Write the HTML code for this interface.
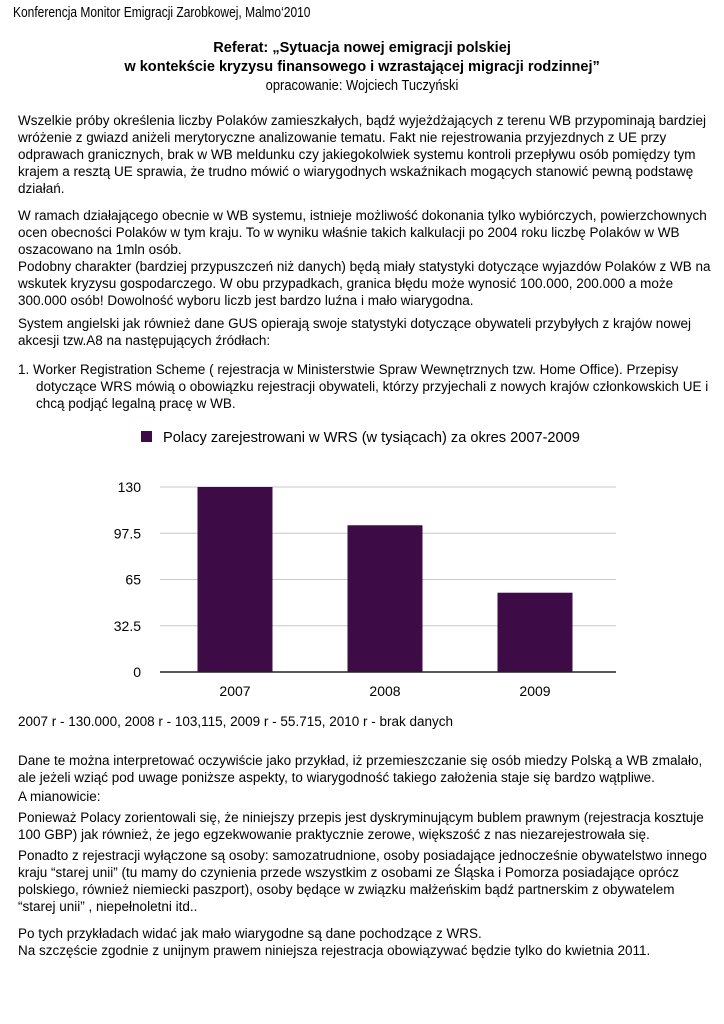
<!DOCTYPE html>
<html><head><meta charset="utf-8">
<style>
body{margin:0;width:724px;height:1024px;background:#fff;position:relative;overflow:hidden;font-family:"Liberation Sans",Arial,sans-serif;color:#000}
.l{position:absolute;left:18px;font-size:13.5px;line-height:17px;white-space:nowrap}
.c{position:absolute;left:0;width:724px;text-align:center;white-space:nowrap}
.n{display:inline-block;transform:scaleX(0.80);transform-origin:left}
</style></head><body>
<div class="l" style="left:13px;top:4px;font-size:15px"><span class="n">Konferencja Monitor Emigracji Zarobkowej, Malmo‘2010</span></div>
<div class="c" style="top:38px;font-size:15px;line-height:19px;font-weight:bold"><span style="display:inline-block;transform:scaleX(0.97)">Referat: „Sytuacja nowej emigracji polskiej<br>w kontekście kryzysu finansowego i wzrastającej migracji rodzinnej”</span></div>
<div class="c" style="top:77px;font-size:15px;left:0"><span style="display:inline-block;transform:scaleX(0.86)">opracowanie: Wojciech Tuczyński</span></div>

<div>
<div class="l" style="top:112px">Wszelkie próby określenia liczby Polaków zamieszkałych, bądź wyjeżdżających z terenu WB przypominają bardziej</div>
<div class="l" style="top:129px">wróżenie z gwiazd aniżeli merytoryczne analizowanie tematu. Fakt nie rejestrowania przyjezdnych z UE przy</div>
<div class="l" style="top:146px">odprawach granicznych, brak w WB meldunku czy jakiegokolwiek systemu kontroli  przepływu osób pomiędzy tym</div>
<div class="l" style="top:163px">krajem a resztą UE sprawia, że trudno mówić o wiarygodnych wskaźnikach mogących stanowić pewną podstawę</div>
<div class="l" style="top:180px">działań.</div>
<div class="l" style="top:207px">W ramach działającego obecnie w WB systemu, istnieje możliwość dokonania tylko wybiórczych, powierzchownych</div>
<div class="l" style="top:224px">ocen obecności Polaków w tym kraju. To w wyniku właśnie takich kalkulacji po 2004 roku liczbę Polaków w WB</div>
<div class="l" style="top:241px">oszacowano na 1mln osób.</div>
<div class="l" style="top:258px">Podobny charakter (bardziej przypuszczeń niż danych) będą miały statystyki dotyczące wyjazdów Polaków z WB na</div>
<div class="l" style="top:275px">wskutek kryzysu gospodarczego. W obu przypadkach, granica błędu może wynosić 100.000, 200.000 a może</div>
<div class="l" style="top:292px">300.000 osób! Dowolność wyboru liczb jest bardzo luźna i mało wiarygodna.</div>
<div class="l" style="top:315px">System angielski jak również dane GUS opierają swoje statystyki dotyczące obywateli przybyłych z krajów nowej</div>
<div class="l" style="top:332px">akcesji tzw.A8 na następujących źródłach:</div>
<div class="l" style="top:361px">1. Worker Registration Scheme ( rejestracja w Ministerstwie Spraw Wewnętrznych tzw. Home Office). Przepisy</div>
<div class="l" style="top:378px;left:36px">dotyczące WRS mówią o obowiązku rejestracji obywateli, którzy przyjechali z nowych krajów członkowskich UE i</div>
<div class="l" style="top:395px;left:36px">chcą podjąć legalną pracę w WB.</div>
</div>

<svg id="chart" style="position:absolute;left:0;top:420px" width="724" height="290">
<g id="legend">
<rect x="141" y="11" width="11" height="11" fill="#3d0c46"/>
<text x="163" y="22" font-size="14.6" font-family="Liberation Sans, sans-serif">Polacy zarejestrowani w WRS (w tysiącach) za okres 2007-2009</text>
</g>
<g id="plot"></g>
</svg>

<div>
<div class="l" style="top:713px;font-size:13.5px">2007 r - 130.000, 2008 r - 103,115, 2009 r - 55.715, 2010 r - brak danych</div>
<div class="l" style="top:752px">Dane te można interpretować oczywiście jako przykład, iż przemieszczanie się osób miedzy Polską a WB zmalało,</div>
<div class="l" style="top:769px">ale jeżeli wziąć pod uwage poniższe aspekty, to wiarygodność takiego założenia staje się bardzo wątpliwe.</div>
<div class="l" style="top:788px">A mianowicie:</div>
<div class="l" style="top:809px">Ponieważ Polacy zorientowali się, że niniejszy przepis jest dyskryminującym bublem prawnym (rejestracja kosztuje</div>
<div class="l" style="top:826px">100 GBP) jak również, że jego egzekwowanie praktycznie zerowe, większość z nas niezarejestrowała się.</div>
<div class="l" style="top:847px">Ponadto z rejestracji wyłączone są osoby: samozatrudnione, osoby posiadające jednocześnie obywatelstwo innego</div>
<div class="l" style="top:864px">kraju “starej unii” (tu mamy do czynienia przede wszystkim z osobami ze Śląska i Pomorza posiadające oprócz</div>
<div class="l" style="top:881px">polskiego, również niemiecki paszport), osoby będące w związku małżeńskim bądź partnerskim z obywatelem</div>
<div class="l" style="top:898px">“starej unii” , niepełnoletni itd..</div>
<div class="l" style="top:925px">Po tych przykładach widać jak mało wiarygodne są dane pochodzące z WRS.</div>
<div class="l" style="top:942px">Na szczęście zgodnie z unijnym prawem niniejsza rejestracja obowiązywać będzie tylko do kwietnia 2011.</div>
</div>

<script>
const categories = ["2007","2008","2009"];
const values = [130, 103.115, 55.715];
const ticks = [0, 32.5, 65, 97.5, 130];
const tickLabels = ["0","32.5","65","97.5","130"];
const NS="http://www.w3.org/2000/svg";
const g=document.getElementById('plot');
const x0=160,x1=610,yTop=67,yBot=252,vmax=130;
const y=v=>yBot-(v/vmax)*(yBot-yTop);
const band=(x1-x0)/categories.length;
const xc=i=>x0+band*(i+0.5);
function mk(t,a){const e=document.createElementNS(NS,t);for(const k in a)e.setAttribute(k,a[k]);g.appendChild(e);return e;}
ticks.forEach((t,i)=>{
  if(t>0){const ln=mk('line',{x1:x0,x2:x1+6,y1:y(t),y2:y(t),stroke:'#c8c8c8','stroke-width':1});
  
  }
  const tx=mk('text',{x:141,y:y(t)+5,'text-anchor':'end','font-size':14,'font-family':'Liberation Sans, sans-serif'});
  tx.textContent=tickLabels[i];
  
  
});
categories.forEach((c,i)=>{
  const b=mk('rect',{x:xc(i)-37.5,y:y(values[i]),width:75,height:yBot-y(values[i]),fill:'#3d0c46'});
  
  
  const tx=mk('text',{x:xc(i),y:yBot+24,'text-anchor':'middle','font-size':14,'font-family':'Liberation Sans, sans-serif'});
  tx.textContent=c;
  
  
});
const ax=mk('line',{x1:x0,x2:x1+6,y1:yBot,y2:yBot,stroke:'#222','stroke-width':1.5});


</script>
</body></html>
